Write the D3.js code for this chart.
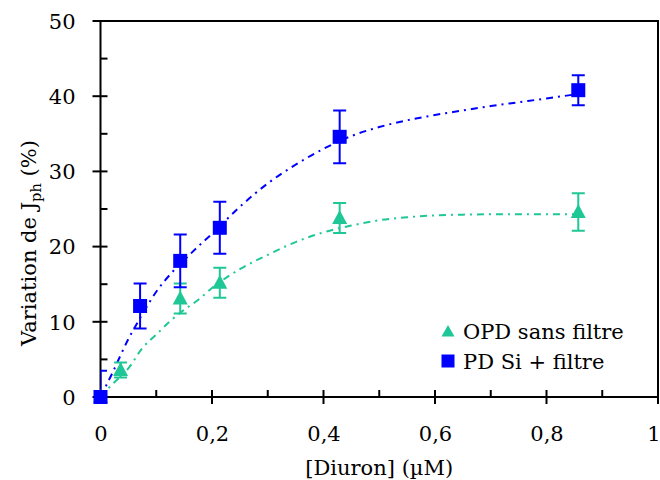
<!DOCTYPE html>
<html>
<head>
<meta charset="utf-8">
<script src="https://cdn.jsdelivr.net/npm/d3@7"></script>
<style>
  html, body { margin: 0; padding: 0; background: #fff; }
  svg { display: block; }
  text { font-family: "DejaVu Serif", "Liberation Serif", serif; fill: #000; }
</style>
</head>
<body>
<svg id="chart" width="660" height="480"></svg>
<script>
// ---- data ----
const seriesNames = ["OPD sans filtre", "PD Si + filtre"];
const colors = ["#1fc796", "#0000ff"];

const opdX   = [0, 0.036, 0.143, 0.214, 0.429, 0.857];
const opdY   = [0, 3.6, 13.1, 15.2, 23.8, 24.6];
const opdErr = [0.5, 1.0, 2.0, 2.0, 2.0, 2.5];

const pdX   = [0, 0.071, 0.143, 0.214, 0.429, 0.857];
const pdY   = [0, 12.1, 18.1, 22.5, 34.6, 40.8];
const pdErr = [3.5, 3.0, 3.5, 3.45, 3.5, 2.0];

// fitted curves
const fitX     = [0, 0.02, 0.05, 0.075, 0.1, 0.125, 0.15, 0.175, 0.2, 0.25, 0.3, 0.35, 0.4, 0.45, 0.5, 0.55, 0.6, 0.65, 0.7, 0.75, 0.8, 0.857];
const fitOpd   = [0, 1.6, 3.8, 6.5, 8.3, 10.1, 11.6, 12.9, 14.5, 17.0, 18.9, 20.6, 21.9, 22.8, 23.5, 23.9, 24.15, 24.25, 24.3, 24.3, 24.3, 24.3];
const fitPd    = [0, 3.0, 7.7, 11.0, 14.0, 16.3, 18.2, 20.0, 21.7, 25.3, 28.4, 30.9, 33.0, 34.7, 35.9, 36.8, 37.5, 38.1, 38.7, 39.2, 39.7, 40.3];

const xTicks = [0, 0.2, 0.4, 0.6, 0.8, 1];
const xTickLabels = ["0", "0,2", "0,4", "0,6", "0,8", "1"];
const xMinor = [0.1, 0.3, 0.5, 0.7, 0.9];
const yTicks = [0, 10, 20, 30, 40, 50];
const yMinor = [5, 15, 25, 35, 45];

// ---- layout ----
const svg = d3.select("#chart");
const pL = 100.5, pR = 658, pT = 21, pB = 397;
const x = d3.scaleLinear().domain([0, 1]).range([pL, pR]);
const y = d3.scaleLinear().domain([0, 50]).range([pB, pT]);
const fs = 21;

svg.append("defs").append("clipPath").attr("id", "plotclip")
  .append("rect").attr("x", pL).attr("y", pT).attr("width", pR - pL).attr("height", pB - pT);

// frame
svg.append("rect").attr("x", pL).attr("y", pT).attr("width", pR - pL).attr("height", pB - pT)
  .attr("fill", "none").attr("stroke", "#000").attr("stroke-width", 2);

// y ticks
const yAxis = d3.axisLeft(y).tickValues(yTicks).tickSize(0).tickFormat(d => d);
const gy = svg.append("g").attr("transform", `translate(${pL},0)`).call(yAxis);
gy.select(".domain").remove();
gy.selectAll("text").attr("x", -25).attr("font-size", fs).attr("font-family", "DejaVu Serif").attr("dy", "0.35em");
svg.append("g").selectAll("line").data(yTicks).join("line")
  .attr("x1", pL - 8).attr("x2", pL + 7).attr("y1", d => y(d)).attr("y2", d => y(d))
  .attr("stroke", "#000").attr("stroke-width", 2);
svg.append("g").selectAll("line").data(yMinor).join("line")
  .attr("x1", pL).attr("x2", pL + 7).attr("y1", d => y(d)).attr("y2", d => y(d))
  .attr("stroke", "#000").attr("stroke-width", 2);

// x ticks
const xAxis = d3.axisBottom(x).tickValues(xTicks).tickSize(0).tickFormat((d, i) => xTickLabels[i]);
const gx = svg.append("g").attr("transform", `translate(0,${pB})`).call(xAxis);
gx.select(".domain").remove();
gx.selectAll("text").attr("y", 44).attr("dy", 0).attr("font-size", fs).attr("font-family", "DejaVu Serif")
  .filter(d => d === 1).attr("text-anchor", "end").attr("dx", 2);
svg.append("g").selectAll("line").data(xTicks).join("line")
  .attr("x1", d => x(d)).attr("x2", d => x(d)).attr("y1", pB - 7).attr("y2", pB + 7)
  .attr("stroke", "#000").attr("stroke-width", 2);
svg.append("g").selectAll("line").data(xMinor).join("line")
  .attr("x1", d => x(d)).attr("x2", d => x(d)).attr("y1", pB - 7).attr("y2", pB)
  .attr("stroke", "#000").attr("stroke-width", 2);

// axis titles
svg.append("text").attr("x", (pL + pR) / 2).attr("y", 475).attr("text-anchor", "middle")
  .attr("font-size", fs).text("[Diuron] (µM)");
const yt = svg.append("text").attr("transform", "translate(36,243) rotate(-90)").attr("text-anchor", "middle")
  .attr("font-size", fs);
yt.append("tspan").text("Variation de J");
yt.append("tspan").attr("font-size", fs * 0.7).attr("dy", 5).text("ph");
yt.append("tspan").attr("dy", -5).text(" (%)");

// fit curves
const line = d3.line().x((d, i) => x(fitX[i])).y(d => y(d)).curve(d3.curveMonotoneX);
const fits = [fitOpd, fitPd];
fits.forEach((f, k) => {
  svg.append("path").attr("d", line(f)).attr("fill", "none").attr("stroke", colors[k])
    .attr("stroke-width", 2).attr("stroke-dasharray", "7,5,2,5").attr("clip-path", "url(#plotclip)");
});

// series
const series = [
  { xs: opdX, ys: opdY, es: opdErr, shape: "tri" },
  { xs: pdX, ys: pdY, es: pdErr, shape: "sq" }
];
const capW = 6.5;
series.forEach((s, k) => {
  const g = svg.append("g");
  const pts = s.xs.map((xv, i) => ({ x: xv, y: s.ys[i], e: s.es[i] }));
  const eb = g.append("g").attr("clip-path", "url(#plotclip)").attr("stroke", colors[k]).attr("stroke-width", 2);
  pts.forEach(p => {
    eb.append("line").attr("x1", x(p.x)).attr("x2", x(p.x)).attr("y1", y(p.y - p.e)).attr("y2", y(p.y + p.e));
    eb.append("line").attr("x1", x(p.x) - capW).attr("x2", x(p.x) + capW).attr("y1", y(p.y + p.e)).attr("y2", y(p.y + p.e));
    eb.append("line").attr("x1", x(p.x) - capW).attr("x2", x(p.x) + capW).attr("y1", y(p.y - p.e)).attr("y2", y(p.y - p.e));
  });
  if (s.shape === "tri") {
    g.selectAll("path.m").data(pts).join("path").attr("class", "m")
      .attr("d", p => `M${x(p.x)},${y(p.y) - 8}L${x(p.x) + 7.5},${y(p.y) + 6}L${x(p.x) - 7.5},${y(p.y) + 6}Z`)
      .attr("fill", colors[k]);
  } else {
    g.selectAll("rect.m").data(pts).join("rect").attr("class", "m")
      .attr("x", p => x(p.x) - 7).attr("y", p => y(p.y) - 7).attr("width", 14).attr("height", 14)
      .attr("fill", colors[k]);
  }
});

// legend
const lg = svg.append("g");
lg.append("path").attr("d", "M448,325L454.5,336.5L441.5,336.5Z").attr("fill", colors[0]);
lg.append("rect").attr("x", 441.5).attr("y", 354.5).attr("width", 13).attr("height", 13).attr("fill", colors[1]);
lg.append("text").attr("x", 463).attr("y", 339).attr("font-size", fs).text(seriesNames[0]);
lg.append("text").attr("x", 463).attr("y", 369).attr("font-size", fs).text(seriesNames[1]);
</script>
</body>
</html>
